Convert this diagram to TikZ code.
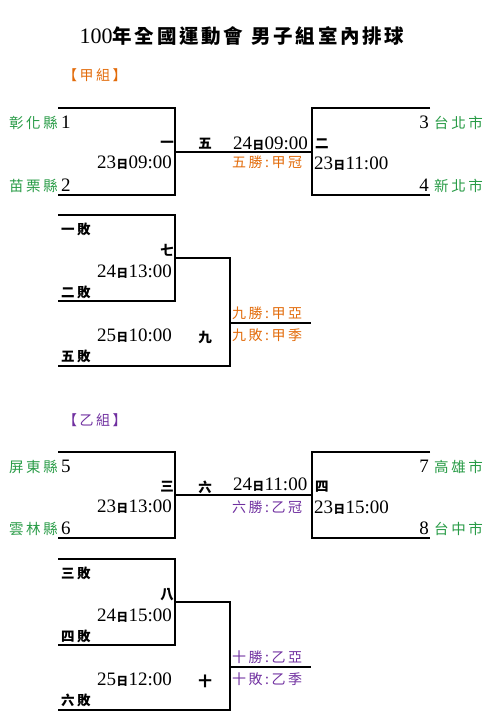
\documentclass[tikz,border=0pt]{standalone}
\usepackage{fontspec}
\usepackage{xcolor}
\usetikzlibrary{positioning}
\setmainfont{Liberation Serif}
\newfontfamily\cjk[LetterSpace=18]{Noto Sans CJK TC}
\newfontfamily\cjktitle[LetterSpace=14]{Noto Sans CJK TC}
\newfontfamily\cjkday{Noto Sans CJK TC}
\definecolor{teamgreen}{RGB}{40,155,70}
\definecolor{grpA}{RGB}{226,107,10}
\definecolor{grpB}{RGB}{112,48,160}
\newcommand{\gametime}[2]{#1\hspace{0.5pt}{\cjkday\bfseries\fontsize{11.5}{11.5}\selectfont 日}\hspace{0.5pt}#2}

\begin{document}
\begin{tikzpicture}[x=1pt, y=-1pt]
    \tikzstyle{team} = [font=\cjk\fontsize{14.5}{15}\selectfont, text=teamgreen, inner sep=0pt]
    \tikzstyle{seed} = [font=\fontsize{19}{19}\selectfont, inner sep=0pt]
    \tikzstyle{game} = [font=\cjk\bfseries\fontsize{13.5}{14}\selectfont, inner sep=0pt]
    \tikzstyle{clock} = [font=\fontsize{19}{19}\selectfont, inner sep=0pt]
    \tikzstyle{result} = [font=\cjk\fontsize{14}{15}\selectfont, inner sep=0pt]
    \tikzstyle{line} = [draw, line width=1.1pt]

    \useasboundingbox (0,0) rectangle (490,723);

    \node [anchor=base, inner sep=0pt] (title) at (242,43)
        {\fontsize{22}{22}\selectfont 100{\cjktitle\bfseries\fontsize{19.5}{20}\selectfont 年全國運動會\hspace{8pt}男子組室內排球}};

    % group A
    \node [result, text=grpA, anchor=base west] (grpa) at (63,80) {【甲組】};

    \coordinate (m1t) at (58,108);
    \coordinate (m1b) at (58,195);
    \coordinate (m1) at (175,152);
    \coordinate (m2t) at (430,108);
    \coordinate (m2b) at (430,195);
    \coordinate (m2) at (312,152);
    \coordinate (m7t) at (58,215);
    \coordinate (m7b) at (58,301);
    \coordinate (m7) at (175,258);
    \coordinate (m9) at (230,323);
    \coordinate (m9b) at (58,366);
    \coordinate (w9) at (311,323);

    \path [line] (m1t) -| (m1) |- (m1b);
    \path [line] (m2t) -| (m2) |- (m2b);
    \path [line] (m1) -- (m2);
    \path [line] (m7t) -| (m7) |- (m7b);
    \path [line] (m7) -| (m9) |- (m9b);
    \path [line] (m9) -- (w9);

    \node [team, anchor=base east] (t1) at (58,128) {彰化縣};
    \node [seed, base right=3pt of t1] (s1) {1};
    \node [team, anchor=base east] (t2) at (58,191) {苗栗縣};
    \node [seed, base right=3pt of t2] (s2) {2};
    \node [game, anchor=base east] (g1) at (174,147.5) {一};
    \node [clock, anchor=base east] (d1) at (172,168.5) {\gametime{23}{09:00}};
    \node [game, anchor=base] (g5) at (205,148.5) {五};
    \node [clock, anchor=base west] (d5) at (233,149.5) {\gametime{24}{09:00}};
    \node [result, text=grpA, anchor=base west] (r5) at (232,167.5) {五勝:甲冠};
    \node [game, anchor=base west] (g2) at (315,148.5) {二};
    \node [clock, anchor=base west] (d2) at (314,169.5) {\gametime{23}{11:00}};
    \node [seed, anchor=base east] (s3) at (429,128) {3};
    \node [team, base right=5pt of s3] (t3) {台北市};
    \node [seed, anchor=base east] (s4) at (429,191) {4};
    \node [team, base right=5pt of s4] (t4) {新北市};

    \node [game, anchor=base west] (l1) at (61,234.5) {一敗};
    \node [game, anchor=base east] (g7) at (174,255.5) {七};
    \node [clock, anchor=base east] (d7) at (172,277.5) {\gametime{24}{13:00}};
    \node [game, anchor=base west] (l2) at (61,297.5) {二敗};
    \node [result, text=grpA, anchor=base west] (r9a) at (232,318.5) {九勝:甲亞};
    \node [result, text=grpA, anchor=base west] (r9b) at (232,340.5) {九敗:甲季};
    \node [clock, anchor=base east] (d9) at (172,341.5) {\gametime{25}{10:00}};
    \node [game, anchor=base] (g9) at (205,342.5) {九};
    \node [game, anchor=base west] (l5) at (61,361.5) {五敗};

    % group B
    \node [result, text=grpB, anchor=base west] (grpb) at (63,425) {【乙組】};

    \coordinate (m3t) at (58,452);
    \coordinate (m3b) at (58,538);
    \coordinate (m3) at (175,495);
    \coordinate (m4t) at (430,452);
    \coordinate (m4b) at (430,538);
    \coordinate (m4) at (312,495);
    \coordinate (m8t) at (58,559);
    \coordinate (m8b) at (58,645);
    \coordinate (m8) at (175,602);
    \coordinate (m10) at (230,667);
    \coordinate (m10b) at (58,710);
    \coordinate (w10) at (311,667);

    \path [line] (m3t) -| (m3) |- (m3b);
    \path [line] (m4t) -| (m4) |- (m4b);
    \path [line] (m3) -- (m4);
    \path [line] (m8t) -| (m8) |- (m8b);
    \path [line] (m8) -| (m10) |- (m10b);
    \path [line] (m10) -- (w10);

    \node [team, anchor=base east] (t5) at (58,472) {屏東縣};
    \node [seed, base right=3pt of t5] (s5) {5};
    \node [team, anchor=base east] (t6) at (58,534) {雲林縣};
    \node [seed, base right=3pt of t6] (s6) {6};
    \node [game, anchor=base east] (g3) at (174,491.5) {三};
    \node [clock, anchor=base east] (d3) at (172,512.5) {\gametime{23}{13:00}};
    \node [game, anchor=base] (g6) at (205,492.5) {六};
    \node [clock, anchor=base west] (d6) at (233,490.5) {\gametime{24}{11:00}};
    \node [result, text=grpB, anchor=base west] (r6) at (232,512.5) {六勝:乙冠};
    \node [game, anchor=base west] (g4) at (315,491.5) {四};
    \node [clock, anchor=base west] (d4) at (314,513.5) {\gametime{23}{15:00}};
    \node [seed, anchor=base east] (s7) at (429,472) {7};
    \node [team, base right=5pt of s7] (t7) {高雄市};
    \node [seed, anchor=base east] (s8) at (429,534) {8};
    \node [team, base right=5pt of s8] (t8) {台中市};

    \node [game, anchor=base west] (l3) at (61,578.5) {三敗};
    \node [game, anchor=base east] (g8) at (174,599.5) {八};
    \node [clock, anchor=base east] (d8) at (172,621.5) {\gametime{24}{15:00}};
    \node [game, anchor=base west] (l4) at (61,641.5) {四敗};
    \node [result, text=grpB, anchor=base west] (r10a) at (232,662.5) {十勝:乙亞};
    \node [result, text=grpB, anchor=base west] (r10b) at (232,684.5) {十敗:乙季};
    \node [clock, anchor=base east] (d10) at (172,685.5) {\gametime{25}{12:00}};
    \node [game, anchor=base] (g10) at (205,686.5) {十};
    \node [game, anchor=base west] (l6) at (61,705.5) {六敗};
\end{tikzpicture}
\end{document}
